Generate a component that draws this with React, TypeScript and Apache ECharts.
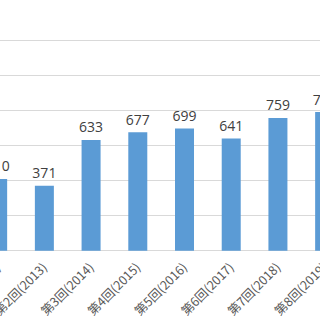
import React, { useEffect, useRef } from "react";
import * as echarts from "echarts";

const categories = [
  "第1回(2012)",
  "第2回(2013)",
  "第3回(2014)",
  "第4回(2015)",
  "第5回(2016)",
  "第6回(2017)",
  "第7回(2018)",
  "第8回(2019)",
];
const values = [410, 371, 633, 677, 699, 641, 759, 792];
const yMin = 0;
const yMax = 1200;
const yInterval = 200;

export default function App() {
  const ref = useRef<HTMLDivElement>(null);
  useEffect(() => {
    document.body.style.margin = "0";
    const chart = echarts.init(ref.current!, null, { renderer: "svg" });
    chart.setOption({
      animation: false,
      backgroundColor: "#ffffff",
      grid: {
        left: -25.7,
        right: -28,
        top: 40.7,
        bottom: 69.3,
        containLabel: false,
        outerBoundsMode: "none",
      },
      xAxis: {
        type: "category",
        data: categories,
        axisLine: { lineStyle: { color: "#d9d9d9", width: 1 } },
        axisTick: { show: false },
        axisLabel: {
          rotate: 45,
          fontSize: 12.5,
          color: "#595959",
          margin: 14,
          interval: 0,
          fontFamily: "Noto Sans CJK JP",
        },
      },
      yAxis: {
        type: "value",
        min: yMin,
        max: yMax,
        interval: yInterval,
        axisLine: { show: false },
        axisTick: { show: false },
        axisLabel: { show: false },
        splitLine: { lineStyle: { color: "#d9d9d9", width: 1 } },
      },
      series: [
        {
          type: "bar",
          data: values,
          barWidth: 19,
          itemStyle: { color: "#5b9bd5" },
          label: {
            show: true,
            position: "top",
            distance: 6,
            fontSize: 14,
            color: "#404040",
            fontFamily: "Open Sans",
          },
        },
      ],
    });
    return () => chart.dispose();
  }, []);
  return <div ref={ref} style={{ width: 320, height: 320 }} />;
}
